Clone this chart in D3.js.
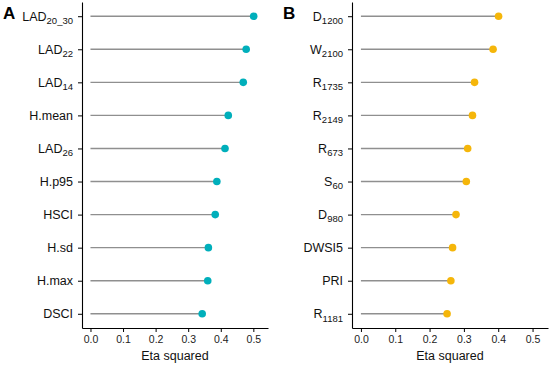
<!DOCTYPE html>
<html>
<head>
<meta charset="utf-8">
<script src="https://cdn.jsdelivr.net/npm/d3@7"></script>
<style>
  html, body { margin: 0; padding: 0; background: #fff; }
  svg { display: block; font-family: "Liberation Sans", Arial, sans-serif; }
</style>
</head>
<body>
<svg id="chart" width="550" height="366"></svg>
<script>
// panel A: canopy structure metrics
const baseA = ["LAD", "LAD", "LAD", "H.mean", "LAD", "H.p95", "HSCI", "H.sd", "H.max", "DSCI"];
const subA = ["20_30", "22", "14", "", "26", "", "", "", "", ""];
const valuesA = [0.501, 0.478, 0.469, 0.423, 0.413, 0.388, 0.383, 0.362, 0.360, 0.343];

// panel B: spectral metrics
const baseB = ["D", "W", "R", "R", "R", "S", "D", "DWSI5", "PRI", "R"];
const subB = ["1200", "2100", "1735", "2149", "673", "60", "980", "", "", "1181"];
const valuesB = [0.401, 0.385, 0.331, 0.325, 0.311, 0.307, 0.277, 0.267, 0.262, 0.251];

const xTicks = [0, 0.1, 0.2, 0.3, 0.4, 0.5];

const svg = d3.select("#chart");

const PANEL_TOP = 2;
const PANEL_BOTTOM = 328;
const SEGMENT_COLOR = "#8f8f8f";

function drawPanel({ left, right, base, sub, values, color, tag, tagX }) {
	const ids = base.map((b, i) => i);

	const x = d3.scaleLinear()
		.domain([-0.026, 0.545])
		.range([left, right]);

	const y = d3.scalePoint()
		.domain(ids)
		.range([PANEL_TOP, PANEL_BOTTOM])
		.padding(0.43);

	const g = svg.append("g");

	// lollipop sticks
	g.append("g")
		.selectAll("line")
		.data(values)
		.join("line")
		.attr("x1", x(0))
		.attr("x2", (d) => x(d))
		.attr("y1", (d, i) => y(i))
		.attr("y2", (d, i) => y(i))
		.attr("stroke", SEGMENT_COLOR)
		.attr("stroke-width", 1.4);

	g.append("g")
		.selectAll("circle")
		.data(values)
		.join("circle")
		.attr("cx", (d) => x(d))
		.attr("cy", (d, i) => y(i))
		.attr("r", 3.8)
		.attr("fill", color);

	// x axis
	const xAxis = g.append("g")
		.attr("transform", `translate(0,${PANEL_BOTTOM})`)
		.call(d3.axisBottom(x)
			.tickValues(xTicks)
			.tickFormat(d3.format(".1f"))
			.tickSize(4)
			.tickSizeOuter(0)
			.tickPadding(4));

	xAxis.select(".domain").attr("stroke", "#000").attr("stroke-width", 1.1);
	xAxis.selectAll(".tick line").attr("stroke", "#000").attr("stroke-width", 1);
	xAxis.selectAll(".tick text")
		.attr("font-size", 10.5)
		.attr("font-family", "Liberation Sans, Arial, sans-serif")
		.attr("fill", "#222");

	// y axis, labels rebuilt with subscripts
	const yAxis = g.append("g")
		.attr("transform", `translate(${left},0)`)
		.call(d3.axisLeft(y)
			.tickSize(4)
			.tickSizeOuter(0)
			.tickPadding(5));

	yAxis.select(".domain").attr("stroke", "#000").attr("stroke-width", 1.1);
	yAxis.selectAll(".tick line").attr("stroke", "#000").attr("stroke-width", 1);

	const labels = yAxis.selectAll(".tick text")
		.attr("font-size", 12.5)
		.attr("font-family", "Liberation Sans, Arial, sans-serif")
		.attr("fill", "#111")
		.text(null);

	labels.append("tspan").text((i) => base[i]);
	labels.filter((i) => sub[i] !== "")
		.append("tspan")
		.attr("font-size", 9.5)
		.attr("dy", "0.35em")
		.text((i) => sub[i]);

	// x axis title
	g.append("text")
		.attr("x", (left + right) / 2)
		.attr("y", 360)
		.attr("text-anchor", "middle")
		.attr("font-size", 12.5)
		.attr("fill", "#111")
		.text("Eta squared");

	// panel tag
	g.append("text")
		.attr("x", tagX)
		.attr("y", 19)
		.attr("font-size", 17)
		.attr("font-weight", 700)
		.attr("fill", "#000")
		.text(tag);
}

drawPanel({
	left: 82, right: 268,
	base: baseA, sub: subA, values: valuesA,
	color: "#00AFBB", tag: "A", tagX: 3
});

drawPanel({
	left: 352, right: 548,
	base: baseB, sub: subB, values: valuesB,
	color: "#F5B60A", tag: "B", tagX: 283
});
</script>
</body>
</html>
